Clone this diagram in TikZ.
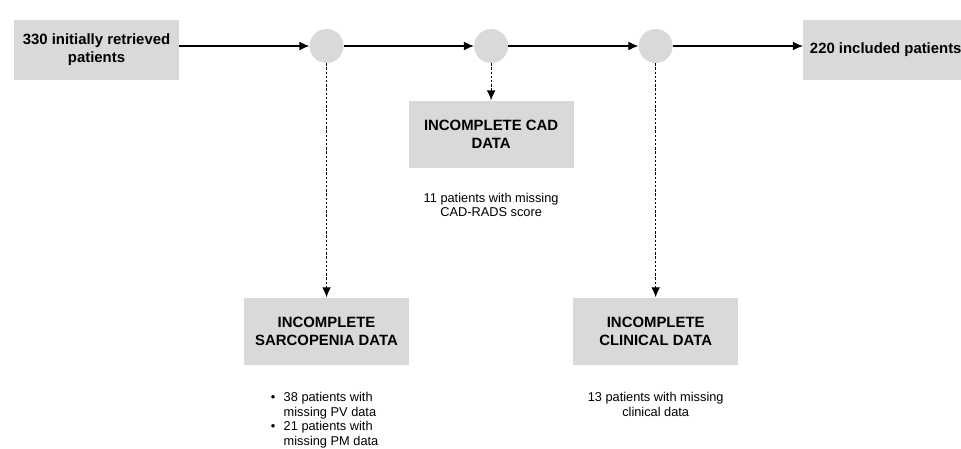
\documentclass[tikz,border=0pt]{standalone}
\usepackage{fontspec}
\setmainfont{Liberation Sans}
\usepackage{tikz}
\usetikzlibrary{arrows.meta,positioning}
\definecolor{boxgray}{HTML}{D9D9D9}
\tikzset{box/.style={fill=boxgray,minimum width=41.25mm,minimum height=15mm,align=center,inner sep=2pt,font=\bfseries\fontsize{10.6}{12.8}\selectfont},exbox/.style={box,minimum height=16.75mm},hub/.style={circle,fill=boxgray,minimum size=8.5mm,inner sep=0pt},note/.style={align=center,inner sep=0pt,font=\fontsize{9.1}{10.5}\selectfont},arr/.style={-{Latex[length=2.5mm,width=2.2mm]},line width=0.28mm},drop/.style={arr,dash pattern=on 0.6mm off 0.45mm}}
\begin{document}
\begin{tikzpicture}[node distance=32.5mm]
\useasboundingbox (0,0) rectangle (240.25mm,-112mm);
\node[box] (start) at (24.125mm,-12.5mm) {330 initially retrieved\\patients};
\node[hub,right=of start,yshift=1mm] (c1) {};
\node[hub,right=of c1] (c2) {};
\node[hub,right=of c2] (c3) {};
\node[box,right=of c3,yshift=-1mm] (done) {220 included patients};
\node[exbox,below=9.25mm of c2] (cad) {INCOMPLETE CAD\\DATA};
\node[exbox,below=58.5mm of c1] (sarc) {INCOMPLETE\\SARCOPENIA DATA};
\node[exbox,below=58.5mm of c3] (clin) {INCOMPLETE\\CLINICAL DATA};
\node[note,below=6.2mm of cad] (cadnote) {11 patients with missing\\CAD-RADS score};
\node[note,below=6.5mm of sarc,xshift=-0.5mm] (sarcnote) {\begin{tabular}{@{}l@{\hspace{6pt}}l@{}}\textbullet&38 patients with\\&missing PV data\\\textbullet&21 patients with\\&missing PM data\end{tabular}};
\node[note,below=6.8mm of clin] (clinnote) {13 patients with missing\\clinical data};
\draw[arr] (start.east|-c1)--(c1);\draw[arr] (c1)--(c2);\draw[arr] (c2)--(c3);\draw[arr] (c3)--(c3-|done.west);
\draw[drop] (c1)--(sarc);\draw[drop] (c2)--(cad);\draw[drop] (c3)--(clin);
\end{tikzpicture}
\end{document}
